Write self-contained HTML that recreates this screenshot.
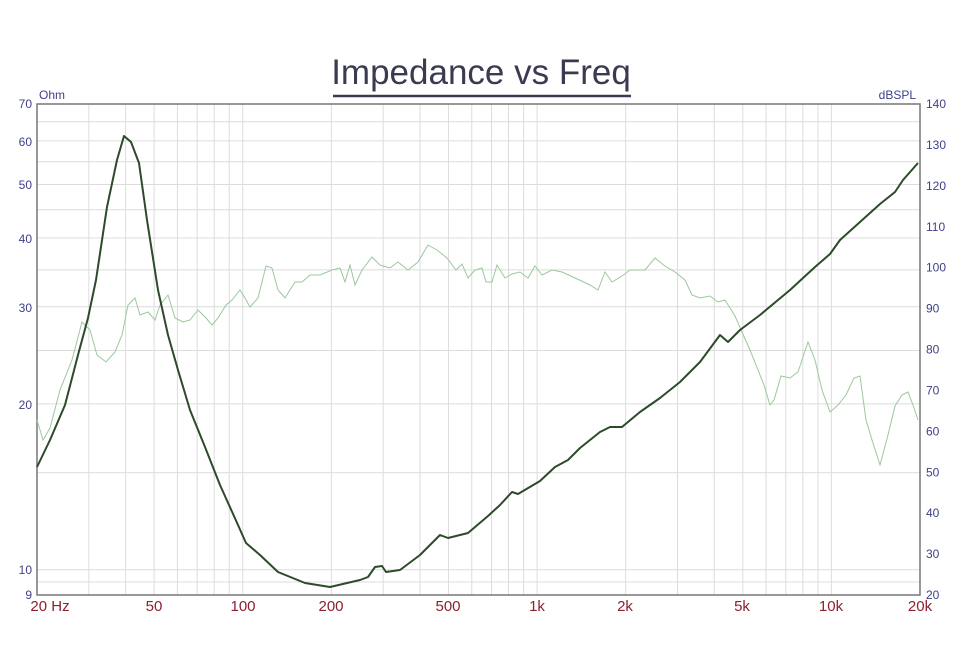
<!DOCTYPE html>
<html><head><style>body{margin:0;background:#fff}svg{display:block}</style></head><body>
<svg width="960" height="649" xmlns="http://www.w3.org/2000/svg" font-family="Liberation Sans, sans-serif">
<rect width="960" height="649" fill="#fff"/>
<text x="481" y="84" text-anchor="middle" font-size="35" fill="#3a3a50">Impedance vs Freq</text>
<line x1="333" y1="96" x2="631" y2="96" stroke="#3a3a50" stroke-width="2.5"/>
<g id="grid" stroke="#dcdcdc" stroke-width="1"></g>
<rect x="37" y="104" width="883" height="491" fill="none" stroke="#777" stroke-width="1.5"/>
<g font-size="12" fill="#3f3f8a">
<text x="39" y="99">Ohm</text>
<text x="32" y="108" text-anchor="end">70</text>
<text x="32" y="146" text-anchor="end">60</text>
<text x="32" y="189" text-anchor="end">50</text>
<text x="32" y="243" text-anchor="end">40</text>
<text x="32" y="312" text-anchor="end">30</text>
<text x="32" y="409" text-anchor="end">20</text>
<text x="32" y="574" text-anchor="end">10</text>
<text x="32" y="599" text-anchor="end">9</text>
<text x="916" y="99" text-anchor="end">dBSPL</text>
</g>
<g id="rt" font-size="12" fill="#3f3f8a"></g>
<g font-size="15" fill="#8b2030" text-anchor="middle">
<text x="50" y="611">20 Hz</text><text x="154" y="611">50</text><text x="243" y="611">100</text>
<text x="331" y="611">200</text><text x="448" y="611">500</text><text x="537" y="611">1k</text>
<text x="625" y="611">2k</text><text x="742" y="611">5k</text><text x="831" y="611">10k</text>
<text x="920" y="611">20k</text></g>
<polyline fill="none" stroke="#9cc89c" stroke-width="1" points="37,420 43,440 50,428 60,390 72,360 82,322 90,330 97,355 106,362 115,352 122,335 128,305 135,298 140,315 148,312 155,320 160,305 168,295 175,318 183,322 190,320 198,310 206,318 212,325 218,318 226,305 232,300 240,290 245,298 250,307 258,298 266,266 272,268 278,290 285,298 295,282 302,282 310,275 320,275 332,270 340,268 345,282 350,265 355,285 362,270 372,257 380,265 390,268 398,262 408,270 418,262 428,245 437,250 447,258 456,270 462,264 468,278 475,270 482,268 486,282 492,282 497,265 505,278 512,274 520,272 528,278 535,266 542,275 552,270 562,272 575,278 590,285 598,290 605,272 612,282 622,276 630,270 645,270 655,258 665,266 675,272 685,280 692,295 700,298 710,296 718,302 725,300 735,316 742,332 750,350 758,370 764,385 770,405 774,400 781,376 790,378 798,372 808,342 815,360 822,390 830,412 838,405 846,395 854,378 860,376 866,420 872,440 880,465 888,435 895,406 902,395 908,392 913,405 918,420"/>
<polyline fill="none" stroke="#2d4a2a" stroke-width="2" stroke-linejoin="round" points="37,467 50,440 65,405 78,355 88,318 96,280 107,207 117,160 124,136 131,142 139,163 147,220 158,290 168,335 178,370 190,410 205,447 220,485 238,525 246,543 260,555 278,572 305,583 330,587 360,580 368,577 375,567 382,566 386,572 400,570 420,555 440,535 448,538 468,533 488,516 500,505 512,492 518,494 540,481 555,467 568,460 580,448 600,432 610,427 622,427 640,412 660,398 680,382 700,362 720,335 728,342 740,330 760,315 790,290 815,267 830,254 840,240 860,222 880,204 895,192 903,180 918,163"/>
<script>
var g=document.getElementById('grid'),rt=document.getElementById('rt'),ns='http://www.w3.org/2000/svg';
function L(a,b,c,d){var l=document.createElementNS(ns,'line');l.setAttribute('x1',a);l.setAttribute('y1',b);l.setAttribute('x2',c);l.setAttribute('y2',d);g.appendChild(l);}
[20,30,40,50,60,70,80,90,100,200,300,400,500,600,700,800,900,1000,2000,3000,4000,5000,6000,7000,8000,9000,10000,20000].forEach(function(f){var x=37+294.33*Math.log10(f/20);L(x,104,x,595);});
function yo(o){return 104+491*(Math.log(70/o)/Math.log(70/9));}
[9.5,10,15,20,25,30,35,40,45,50,55,60,65].forEach(function(o){var y=yo(o);L(37,y,920,y);});
for(var d=20;d<=140;d+=10){var y=595-(d-20)*491/120;var t=document.createElementNS(ns,'text');t.setAttribute('x',926);t.setAttribute('y',y+4);t.textContent=d;rt.appendChild(t);}
</script>
</svg>
</body></html>
